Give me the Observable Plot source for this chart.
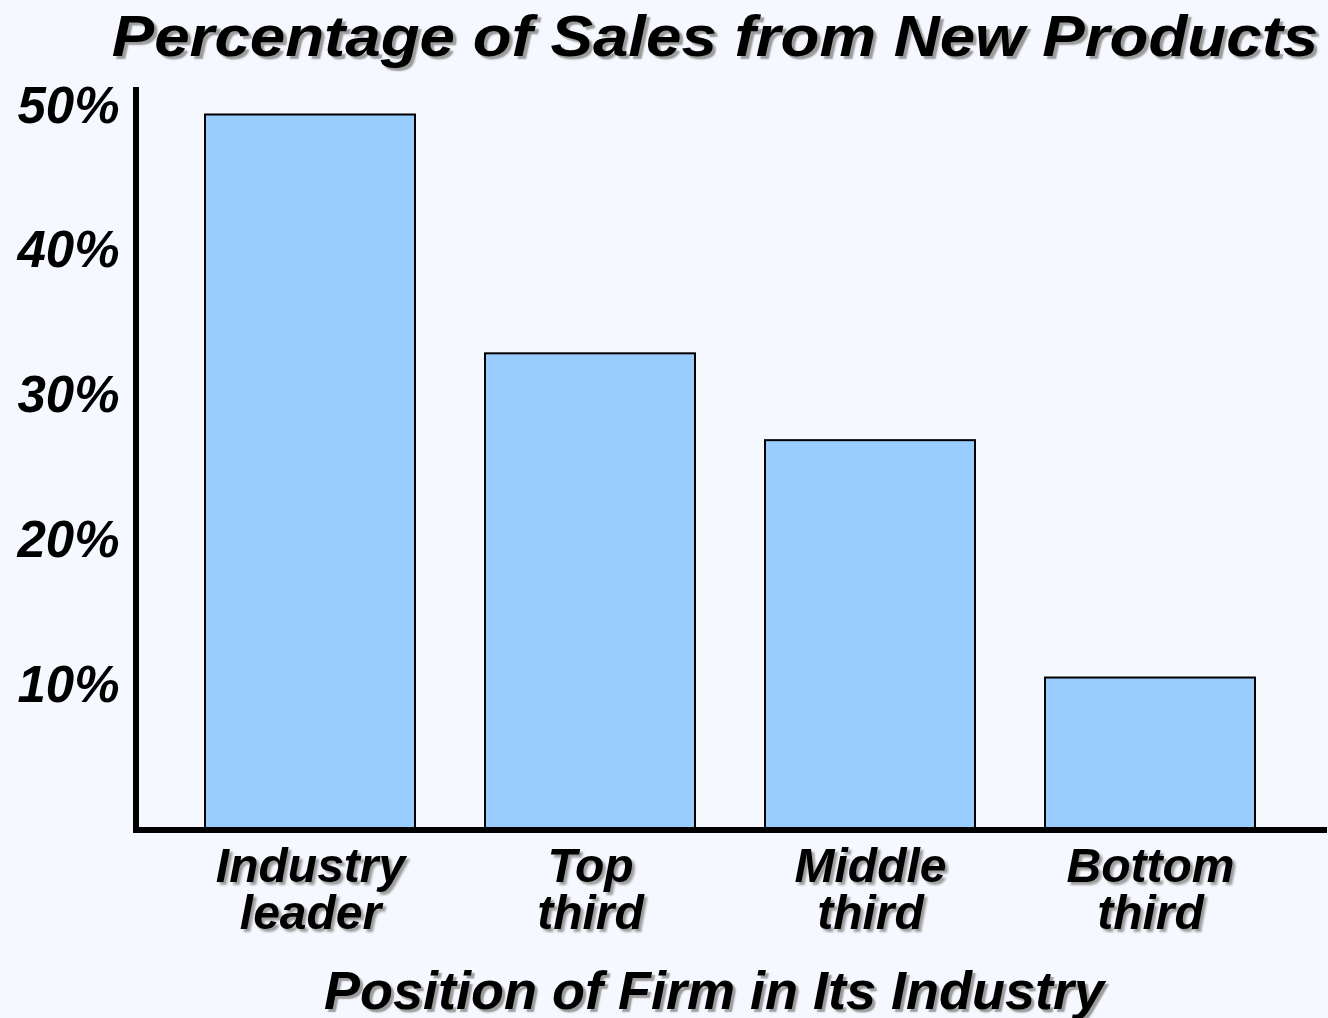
<!DOCTYPE html>
<html>
<head>
<meta charset="utf-8">
<script src="https://cdn.jsdelivr.net/npm/d3@7"></script>
<script src="https://cdn.jsdelivr.net/npm/@observablehq/plot@0.6"></script>
<style>
  html, body { margin: 0; padding: 0; background: #f5f8fe; }
  #wrap { position: relative; width: 1328px; height: 1018px; overflow: hidden;
          font-family: "Liberation Sans", Arial, sans-serif; font-weight: bold; font-style: italic; color: #000; }
  #chart { position: absolute; left: 0; top: 0; }
  .htext { position: absolute; white-space: nowrap; text-shadow: 3px 3px 1.5px #9c9c9c; }
  #title { left: 715px; top: 8px; font-size: 57px; line-height: 57px; transform: translateX(-50%) scaleX(1.117); }
  #xtitle { left: 714px; top: 963px; font-size: 54px; line-height: 54px; transform: translateX(-50%); }
</style>
</head>
<body>
<div id="wrap">
  <div id="chart"></div>
  <div id="title" class="htext"></div>
  <div id="xtitle" class="htext"></div>
</div>
<script>
// ---- data ----
const titleText = "Percentage of Sales from New Products";
const xAxisTitle = "Position of Firm in Its Industry";
const categories = ["Industry leader", "Top third", "Middle third", "Bottom third"];
const categoryLabels = ["Industry\nleader", "Top\nthird", "Middle\nthird", "Bottom\nthird"];
const values = [49.4, 32.9, 26.9, 10.5];
const yTicks = [10, 20, 30, 40, 50];

const data = categories.map((c, i) => ({category: c, value: values[i]}));
const labelOf = new Map(categories.map((c, i) => [c, categoryLabels[i]]));

document.getElementById("title").textContent = titleText;
document.getElementById("xtitle").textContent = xAxisTitle;

const yAxisLine = (index, scales, vals, dims) => {
  const x = dims.marginLeft + 3;
  const line = d3.create("svg:line")
    .attr("x1", x).attr("x2", x)
    .attr("y1", dims.marginTop)
    .attr("y2", dims.height - dims.marginBottom + 3)
    .attr("stroke", "#000").attr("stroke-width", 6);
  return line.node();
};

const chart = Plot.plot({
  width: 1328,
  height: 1018,
  marginTop: 87,
  marginBottom: 188.5,
  marginLeft: 133,
  marginRight: 1,
  style: {background: "transparent", fontFamily: "Liberation Sans, Arial, sans-serif", fontWeight: "bold", fontStyle: "italic", color: "#000"},
  x: {domain: categories, padding: 0.25, label: null},
  y: {domain: [0, 51.3], label: null},
  marks: [
    Plot.barY(data, {x: "category", y: "value", fill: "#99ccff", stroke: "#000", strokeWidth: 2}),
    Plot.ruleY([0], {stroke: "#000", strokeWidth: 6}),
    yAxisLine,
    Plot.axisY({ticks: yTicks, tickFormat: d => d + "%", tickSize: 0, tickPadding: 14, fontSize: 51, fill: "#000", label: null}),
    Plot.axisX({tickSize: 0, tickPadding: 19, fontSize: 48, lineHeight: 0.98, fill: "#000", tickFormat: d => labelOf.get(d), label: null})
  ]
});
document.getElementById("chart").appendChild(chart);

// drop shadow on the category labels, like the titles
const xg = chart.querySelector('g[aria-label="x-axis tick label"]');
if (xg) xg.style.filter = "drop-shadow(3px 3px 1px #9c9c9c)";
</script>
</body>
</html>
